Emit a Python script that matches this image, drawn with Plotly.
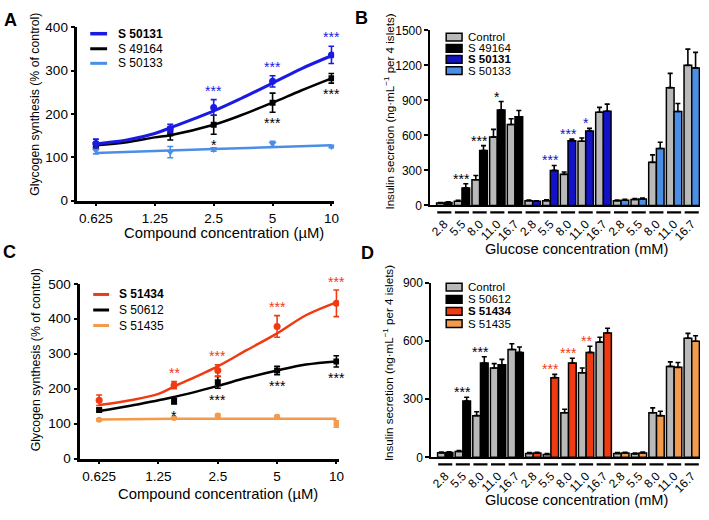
import math
import plotly.graph_objects as go

# ------------------------------------------------------------------ data
# Panels A and C: glycogen synthesis vs compound concentration
conc = [0.625, 1.5, 2.5, 5, 10]
conc_ticks = [0.625, 1.25, 2.5, 5, 10]
conc_tick_text = ["0.625", "1.25", "2.5", "5", "10"]

a_s50131 = [132, 166, 215, 275, 336]
a_s50131_err = [10, 10, 18, 13, 20]
a_s49164 = [128, 155, 175, 226, 282]
a_s49164_err = [6, 15, 22, 22, 11]
a_s50133 = [116, 112, 118, 131, 125]
a_s50133_err = [8, 13, 4, 6, 3]
a_sig_s50131 = ["", "", "***", "***", "***"]
a_sig_s49164 = ["", "", "*", "***", "***"]

fit_x = [0.625, 0.9, 1.25, 1.5, 2.5, 3.5, 5, 7, 10]
a_fit_s50131 = [131, 140, 155, 168, 207, 237, 271, 304, 334]
a_fit_s49164 = [128, 135, 146, 151, 175, 198, 226, 254, 282]
a_flat_x = [0.625, 2.5, 10]
a_fit_s50133 = [110, 119, 128]

c_s51434 = [167, 210, 252, 378, 444]
c_s51434_err = [15, 10, 16, 31, 38]
c_s50612 = [139, 164, 218, 252, 278]
c_s50612_err = [4, 8, 17, 12, 16]
c_s51435 = [111, 116, 123, 120, 99]
c_s51435_err = [3, 3, 4, 3, 9]
c_sig_s51434 = ["", "**", "***", "***", "***"]
c_sig_s50612 = ["", "*", "***", "***", "***"]

c_fit_s51434 = [153, 167, 185, 206, 264, 310, 358, 410, 447]
c_fit_s50612 = [136, 151, 167, 176, 208, 231, 252, 269, 278]
c_flat_x = [0.625, 1.5, 10]
c_fit_s51435 = [112, 114, 114]

# Panels B and D: insulin secretion vs glucose concentration
glucose = ["2.8", "5.5", "8.0", "11.0", "16.7"] * 3

b_control = [20, 35, 220, 585, 693, 40, 40, 266, 549, 798, 40, 50, 369, 1009, 1200]
b_control_err = [5, 8, 36, 66, 50, 6, 8, 20, 28, 42, 6, 8, 64, 122, 139]
b_s49164 = [25, 150, 470, 818, 760]
b_s49164_err = [5, 36, 42, 72, 53]
b_s50131 = [35, 300, 554, 638, 807]
b_s50131_err = [5, 42, 14, 22, 61]
b_s50133 = [45, 55, 488, 804, 1178]
b_s50133_err = [8, 8, 53, 69, 133]
b_sig_s49164 = ["", "***", "***", "*", ""]
b_sig_s50131 = ["", "***", "***", "*", ""]
b_sig_s50133 = ["", "", "", "", ""]

d_control = [23, 30, 215, 461, 556, 20, 15, 230, 436, 594, 20, 18, 230, 469, 614]
d_control_err = [4, 5, 20, 22, 30, 4, 4, 18, 25, 25, 4, 4, 25, 23, 25]
d_s50612 = [25, 290, 486, 477, 541]
d_s50612_err = [4, 20, 33, 28, 28]
d_s51434 = [22, 411, 486, 541, 641]
d_s51434_err = [4, 17, 25, 32, 25]
d_s51435 = [22, 22, 215, 464, 599]
d_s51435_err = [4, 5, 23, 25, 28]
d_sig_s50612 = ["", "***", "***", "", ""]
d_sig_s51434 = ["", "***", "***", "**", ""]
d_sig_s51435 = ["", "", "", "", ""]

# ------------------------------------------------------------------ style
W, H = 709, 520
FONT = "'Liberation Sans', Arial, sans-serif"

BLUE = "#1A1AE4"
LBLUE = "#4A8EE6"
DBLUE = "#1212C8"
RED = "#F03A12"
ORANGE = "#F39A4C"
GRAY = "#B9B9B9"
BLACK = "#000000"


def px_x(x):
    return x / W


def px_y(y):
    return 1 - y / H


fig = go.Figure()
annotations = []
shapes = []


def add_curve_series(xa, ya, fx, fy, y, err, color, symbol, lw, msize):
    fig.add_trace(go.Scatter(x=fx, y=fy, mode="lines", xaxis=xa, yaxis=ya,
                             line=dict(color=color, width=lw, shape="spline", smoothing=1.0),
                             hoverinfo="skip"))
    fig.add_trace(go.Scatter(x=conc, y=y, mode="markers", xaxis=xa, yaxis=ya,
                             marker=dict(color=color, symbol=symbol, size=msize),
                             error_y=dict(type="data", array=err, color=color,
                                          thickness=1.6, width=3)))


def add_sig(xref, yref, xs, ys, errs, sigs, color, above, shift_px):
    for x, v, e, s in zip(xs, ys, errs, sigs):
        if not s:
            continue
        yv = v + e if above else v - e
        annotations.append(dict(x=math.log10(x), y=yv, xref=xref, yref=yref, text=s,
                                showarrow=False, xanchor="center", yanchor="middle",
                                yshift=(shift_px - 4) if above else -(shift_px + 4),
                                font=dict(family=FONT, size=14, color=color)))


# ---- Panel A
add_curve_series("x", "y", a_flat_x, a_fit_s50133, a_s50133, a_s50133_err, LBLUE, "triangle-down", 2.5, 7)
add_curve_series("x", "y", fit_x, a_fit_s49164, a_s49164, a_s49164_err, BLACK, "square", 2.5, 6)
add_curve_series("x", "y", fit_x, a_fit_s50131, a_s50131, a_s50131_err, BLUE, "circle", 3, 7)
add_sig("x", "y", conc, a_s50131, a_s50131_err, a_sig_s50131, BLUE, True, 13)
add_sig("x", "y", conc, a_s49164, a_s49164_err, a_sig_s49164, BLACK, False, 7)

# ---- Panel C
add_curve_series("x3", "y3", c_flat_x, c_fit_s51435, c_s51435, c_s51435_err, ORANGE, "circle", 2.5, 6)
add_curve_series("x3", "y3", fit_x, c_fit_s50612, c_s50612, c_s50612_err, BLACK, "square", 2.5, 6)
add_curve_series("x3", "y3", fit_x, c_fit_s51434, c_s51434, c_s51434_err, RED, "circle", 2.5, 7)
add_sig("x3", "y3", conc, c_s51434, c_s51434_err, c_sig_s51434, RED, True, 12.5)
add_sig("x3", "y3", conc, c_s50612, c_s50612_err, c_sig_s50612, BLACK, False, 7.5)


# ---- Panels B and D (bars)
def add_bars(xa, ya, control, control_err, treated, treated_err, colors, sigs, sig_colors):
    idx = list(range(len(control)))
    err_style = dict(type="data", symmetric=False, color=BLACK, thickness=1.6, width=2.5)
    fig.add_trace(go.Bar(x=idx, y=control, xaxis=xa, yaxis=ya, offsetgroup="ctrl",
                         marker=dict(color=GRAY, line=dict(color=BLACK, width=1.5)),
                         error_y=dict(array=control_err, arrayminus=[0] * len(control), **err_style)))
    for g, (vals, errs, col) in enumerate(zip(treated, treated_err, colors)):
        gx = idx[g * 5:(g + 1) * 5]
        fig.add_trace(go.Bar(x=gx, y=vals, xaxis=xa, yaxis=ya, offsetgroup="trt",
                             marker=dict(color=col, line=dict(color=BLACK, width=1.5)),
                             error_y=dict(array=errs, arrayminus=[0] * len(vals), **err_style)))
        for j, s in enumerate(sigs[g]):
            if not s:
                continue
            i = gx[j]
            top = max(control[i] + control_err[i], vals[j] + errs[j])
            annotations.append(dict(x=i, y=top, xref=xa, yref=ya, text=s, showarrow=False,
                                    xanchor="center", yanchor="middle", yshift=9 - 4,
                                    font=dict(family=FONT, size=14, color=sig_colors[g])))
    # group dashes under each pair of bars
    for i in idx:
        shapes.append(dict(type="line", xref=xa, yref=ya + " domain",
                           x0=i - 0.4, x1=i + 0.4, y0=-0.04, y1=-0.04,
                           line=dict(color=BLACK, width=2.2)))


add_bars("x2", "y2", b_control, b_control_err,
         [b_s49164, b_s50131, b_s50133], [b_s49164_err, b_s50131_err, b_s50133_err],
         [BLACK, DBLUE, LBLUE], [b_sig_s49164, b_sig_s50131, b_sig_s50133],
         [BLACK, DBLUE, LBLUE])
add_bars("x4", "y4", d_control, d_control_err,
         [d_s50612, d_s51434, d_s51435], [d_s50612_err, d_s51434_err, d_s51435_err],
         [BLACK, RED, ORANGE], [d_sig_s50612, d_sig_s51434, d_sig_s51435],
         [BLACK, RED, ORANGE])


# ---- manual legends
def line_legend(items, x0, x1, xt, ys):
    for (name, color, lw), yy in zip(items, ys):
        shapes.append(dict(type="line", xref="paper", yref="paper",
                           x0=px_x(x0), x1=px_x(x1), y0=px_y(yy), y1=px_y(yy),
                           line=dict(color=color, width=lw)))
        annotations.append(dict(x=px_x(xt), y=px_y(yy), xref="paper", yref="paper", text=name,
                                showarrow=False, xanchor="left", yanchor="middle",
                                font=dict(family=FONT, size=12, color=BLACK)))


def box_legend(items, x0, x1, xt, ys, hgt):
    for (name, color), yy in zip(items, ys):
        shapes.append(dict(type="rect", xref="paper", yref="paper",
                           x0=px_x(x0), x1=px_x(x1), y0=px_y(yy + hgt / 2), y1=px_y(yy - hgt / 2),
                           fillcolor=color, line=dict(color=BLACK, width=1.5)))
        annotations.append(dict(x=px_x(xt), y=px_y(yy), xref="paper", yref="paper", text=name,
                                showarrow=False, xanchor="left", yanchor="middle",
                                font=dict(family=FONT, size=11.5, color=BLACK)))


line_legend([("<b>S 50131</b>", BLUE, 3.5), ("S 49164", BLACK, 3), ("S 50133", LBLUE, 3)],
            90, 107, 116, [27.5, 43, 58])
line_legend([("<b>S 51434</b>", RED, 3), ("S 50612", BLACK, 3), ("S 51435", ORANGE, 3)],
            93, 109, 117, [296, 312, 328])
box_legend([("Control", GRAY), ("S 49164", BLACK), ("<b>S 50131</b>", DBLUE), ("S 50133", LBLUE)],
           449, 465, 469, [31, 42.5, 54, 65.5], 8)
box_legend([("Control", GRAY), ("S 50612", BLACK), ("<b>S 51434</b>", RED), ("S 51435", ORANGE)],
           449, 465, 469, [288.5, 301, 313.5, 326], 8)


# ---- axis titles and panel letters
def text_px(txt, x, y, size, angle=0, bold=False):
    annotations.append(dict(x=px_x(x), y=px_y(y), xref="paper", yref="paper",
                            text=("<b>%s</b>" % txt) if bold else txt, showarrow=False,
                            xanchor="center", yanchor="middle", textangle=angle,
                            font=dict(family=FONT, size=size, color=BLACK)))


text_px("Compound concentration (µM)", 225, 233, 14.8)
text_px("Compound concentration (µM)", 219, 501, 14.8)
text_px("Glycogen synthesis (% of control)", 34, 100, 12.3, -90)
text_px("Glycogen synthesis (% of control)", 35, 363, 12.3, -90)
text_px("Glucose concentration (mM)", 580, 249, 14.6)
text_px("Glucose concentration (mM)", 580, 508, 14.6)
ins_title = "Insulin secretion (ng·mL<sup>−1</sup> per 4 islets)"
text_px(ins_title, 391, 108, 11.6, -90)
text_px(ins_title, 391, 367, 11.6, -90)
text_px("A", 10, 13, 18, 0, True)
text_px("B", 364, 11, 18, 0, True)
text_px("C", 9, 252, 18, 0, True)
text_px("D", 370, 253, 18, 0, True)

# ------------------------------------------------------------------ axes
common_y = dict(showgrid=False, zeroline=False, showline=True, linecolor=BLACK,
                ticks="outside", tickcolor=BLACK, mirror=False)

logx = dict(type="log", tickvals=conc_ticks, ticktext=conc_tick_text, showgrid=False,
            zeroline=False, showline=True, linecolor=BLACK, linewidth=2.5, ticks="outside",
            ticklen=3, tickwidth=2, tickcolor=BLACK,
            tickfont=dict(family=FONT, size=13.5, color=BLACK))

barx = dict(tickvals=list(range(15)), ticktext=glucose, tickangle=-45, showgrid=False,
            zeroline=False, showline=True, linecolor=BLACK, linewidth=2, ticks="",
            ticklabelstandoff=5, tickfont=dict(family=FONT, size=12, color=BLACK))

fig.update_layout(
    width=W, height=H, margin=dict(l=0, r=0, t=0, b=0),
    paper_bgcolor="white", plot_bgcolor="white", showlegend=False,
    barmode="group", bargap=0.13, bargroupgap=0,
    xaxis=dict(domain=[px_x(77), px_x(336)], range=[-0.2989, 1.0137], anchor="y", **logx),
    yaxis=dict(domain=[px_y(199.5), px_y(20.7)], range=[0, 400], tickvals=[0, 100, 200, 300, 400],
               anchor="x", linewidth=2.5, ticklen=4, tickwidth=2,
               tickfont=dict(family=FONT, size=13.5, color=BLACK), **common_y),
    xaxis3=dict(domain=[px_x(80), px_x(341)], range=[-0.2997, 1.0136], anchor="y3", **logx),
    yaxis3=dict(domain=[px_y(465), px_y(285)], range=[0, 500], tickvals=[0, 100, 200, 300, 400, 500],
                anchor="x3", linewidth=2.5, ticklen=4, tickwidth=2,
                tickfont=dict(family=FONT, size=13.5, color=BLACK), **common_y),
    xaxis2=dict(domain=[px_x(433), px_x(705)], range=[-0.79, 14.47], anchor="y2", **barx),
    yaxis2=dict(domain=[px_y(204.3), px_y(24)], range=[0, 1500], tickvals=[0, 300, 600, 900, 1200, 1500],
                anchor="x2", linewidth=2, ticklen=4, tickwidth=1.5,
                tickfont=dict(family=FONT, size=12, color=BLACK), **common_y),
    xaxis4=dict(domain=[px_x(434), px_x(705)], range=[-0.79, 14.47], anchor="y4", **barx),
    yaxis4=dict(domain=[px_y(463.7), px_y(284)], range=[0, 900], tickvals=[0, 300, 600, 900],
                anchor="x4", linewidth=2, ticklen=4, tickwidth=1.5,
                tickfont=dict(family=FONT, size=12, color=BLACK), **common_y),
    annotations=annotations, shapes=shapes,
)

fig.write_html(
    "out.html",
    config={"displayModeBar": False, "responsive": False},
    post_script="document.body.style.margin='0';document.body.style.padding='0';"
                "document.documentElement.style.overflow='hidden';",
)
